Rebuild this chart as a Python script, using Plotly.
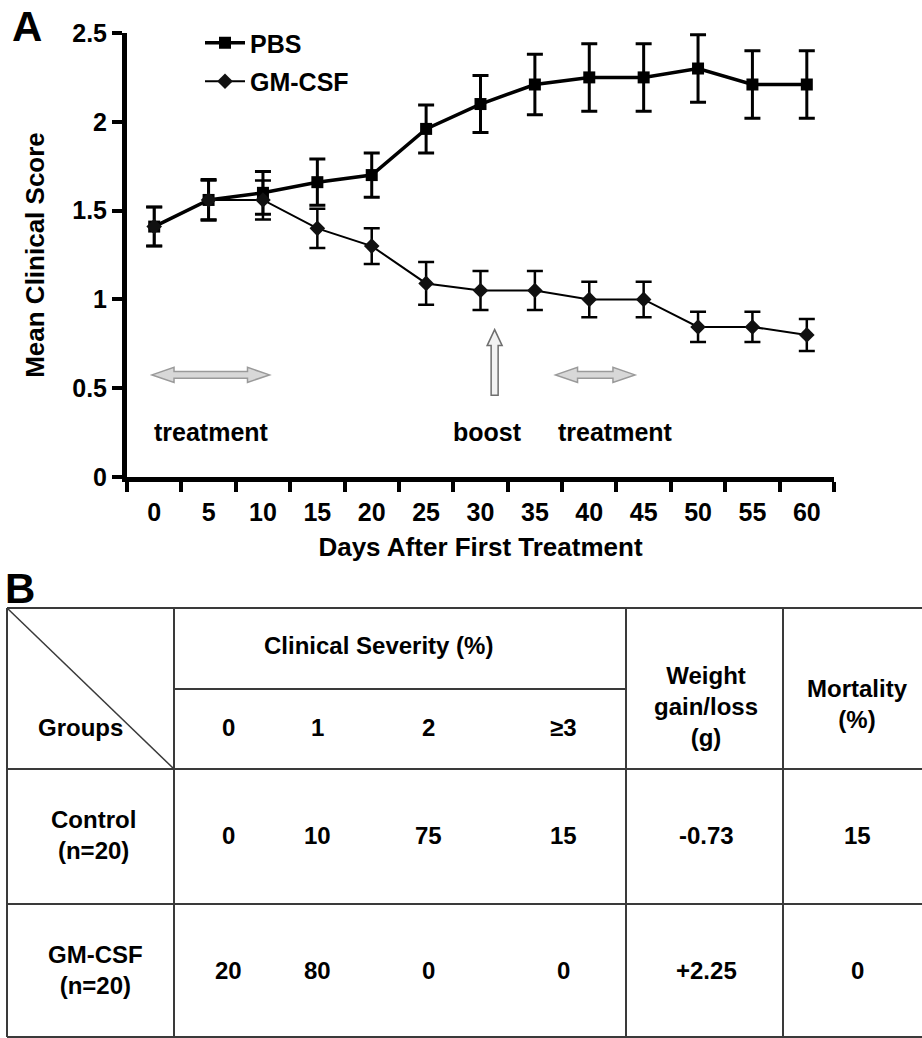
import plotly.graph_objects as go

# ---------------- data (panel A) ----------------
days = [0, 5, 10, 15, 20, 25, 30, 35, 40, 45, 50, 55, 60]
pbs_mean = [1.41, 1.56, 1.60, 1.66, 1.70, 1.96, 2.10, 2.21, 2.25, 2.25, 2.30, 2.21, 2.21]
pbs_sem = [0.11, 0.115, 0.12, 0.13, 0.125, 0.135, 0.16, 0.17, 0.19, 0.19, 0.19, 0.19, 0.19]
gm_mean = [1.41, 1.56, 1.56, 1.40, 1.30, 1.09, 1.05, 1.05, 1.00, 1.00, 0.845, 0.845, 0.80]
gm_sem = [0.11, 0.11, 0.11, 0.11, 0.10, 0.12, 0.11, 0.11, 0.10, 0.10, 0.085, 0.085, 0.09]
y_ticks = [0, 0.5, 1, 1.5, 2, 2.5]
y_ticklabels = ["0", "0.5", "1", "1.5", "2", "2.5"]

treatment_arrows_days = [(-0.2, 10.6), (36.9, 44.2)]
boost_day = 31.3

# ---------------- data (panel B) ----------------
severity_levels = ["0", "1", "2", "≥3"]
groups = ["Control<br>(n=20)", "GM-CSF<br>(n=20)"]
severity_control = ["0", "10", "75", "15"]
severity_gmcsf = ["20", "80", "0", "0"]
weight_change = ["-0.73", "+2.25"]
mortality = ["15", "0"]

# ---------------- figure geometry ----------------
W, H = 922, 1038
FONT = "Liberation Sans, Arial, Helvetica, sans-serif"
PX_L, PX_R, PX_T, PX_B = 127, 834, 33, 477
XR = (-2.5, 62.5)
YR = (0, 2.5)


def px(x):
    return x / W


def py(y):
    return 1 - y / H


fig = go.Figure()

fig.add_trace(go.Scatter(
    x=days, y=pbs_mean, name="PBS", mode="lines+markers",
    line=dict(color="black", width=3.5),
    marker=dict(symbol="square", size=12, color="black"),
    error_y=dict(type="data", array=pbs_sem, visible=True, color="black",
                 thickness=3, width=8),
    legendgroup="a",
))
fig.add_trace(go.Scatter(
    x=days, y=gm_mean, name="GM-CSF", mode="lines+markers",
    line=dict(color="black", width=2),
    marker=dict(symbol="diamond", size=12, color="#111111"),
    error_y=dict(type="data", array=gm_sem, visible=True, color="black",
                 thickness=2.5, width=8),
    legendgroup="b",
))

bold = dict(family=FONT, size=25, color="black", weight="bold")
title_font = dict(family=FONT, size=26, color="black", weight="bold")

fig.update_layout(
    width=W, height=H, autosize=False,
    margin=dict(l=0, r=0, t=0, b=0),
    paper_bgcolor="white", plot_bgcolor="white",
    showlegend=True,
    legend=dict(x=px(200), y=py(20), xanchor="left", yanchor="top",
                font=bold, bgcolor="rgba(0,0,0,0)", tracegroupgap=3,
                traceorder="grouped", itemwidth=40),
    xaxis=dict(
        domain=[px(PX_L), px(PX_R)], range=list(XR), anchor="y",
        tickmode="array", tickvals=days, ticktext=[str(d) for d in days],
        ticks="outside", ticklen=9, tickcolor="rgba(0,0,0,0)",
        minor=dict(tickmode="array",
                   tickvals=[XR[0] + 5 * k for k in range(14)],
                   ticks="outside", ticklen=10, tickwidth=4, tickcolor="black"),
        showline=True, linewidth=5, linecolor="black",
        showgrid=False, zeroline=False, tickfont=bold,
        title=dict(text="Days After First Treatment", font=title_font, standoff=14),
        automargin=False,
    ),
    yaxis=dict(
        domain=[py(PX_B), py(PX_T)], range=list(YR), anchor="x",
        tickmode="array", tickvals=y_ticks, ticktext=y_ticklabels,
        ticks="outside", ticklen=10, tickwidth=4, tickcolor="black",
        showline=True, linewidth=5, linecolor="black",
        showgrid=False, zeroline=False, tickfont=bold,
        title=dict(text="Mean Clinical Score", font=title_font, standoff=22),
        automargin=False,
    ),
)

# scale helpers (pixels -> data units in panel A)
dpx = (XR[1] - XR[0]) / (PX_R - PX_L)
dpy = (YR[1] - YR[0]) / (PX_B - PX_T)

shapes = []
# horizontal double arrows (treatment periods)
y_arrow = 0.575
for (a, b) in treatment_arrows_days:
    L = 22 * dpx
    Hh = 7.5 * dpy
    h = 3.3 * dpy
    path = (f"M {a},{y_arrow} L {a+L},{y_arrow+Hh} L {a+L},{y_arrow+h} "
            f"L {b-L},{y_arrow+h} L {b-L},{y_arrow+Hh} L {b},{y_arrow} "
            f"L {b-L},{y_arrow-Hh} L {b-L},{y_arrow-h} L {a+L},{y_arrow-h} "
            f"L {a+L},{y_arrow-Hh} Z")
    shapes.append(dict(type="path", xref="x", yref="y", path=path,
                       fillcolor="#d8d8d8", line=dict(color="#9a9a9a", width=1.5)))
# vertical boost arrow
y0, y1 = 0.46, 0.83
hw = 3.5 * dpx
HW = 7.5 * dpx
HL = 16 * dpy
bx = boost_day
path = (f"M {bx-hw},{y0} L {bx-hw},{y1-HL} L {bx-HW},{y1-HL} L {bx},{y1} "
        f"L {bx+HW},{y1-HL} L {bx+hw},{y1-HL} L {bx+hw},{y0} Z")
shapes.append(dict(type="path", xref="x", yref="y", path=path,
                   fillcolor="#f2f2f2", line=dict(color="#6e6e6e", width=1.5)))

# ---------------- table (panel B) ----------------
LC = "#3a3a3a"
TL, TR, TT, TB = 7, 922, 608, 1037
col_x = [174, 626, 783]
y_sub, y_head, y_row = 689, 769, 904


def hline(y, x0, x1):
    shapes.append(dict(type="line", xref="paper", yref="paper",
                       x0=px(x0), x1=px(x1), y0=py(y), y1=py(y),
                       line=dict(color=LC, width=2)))


def vline(x, y0, y1):
    shapes.append(dict(type="line", xref="paper", yref="paper",
                       x0=px(x), x1=px(x), y0=py(y0), y1=py(y1),
                       line=dict(color=LC, width=2)))


for yy in (TT, y_head, y_row, TB):
    hline(yy, TL, TR)
hline(y_sub, col_x[0], col_x[1])
for xx in [TL] + col_x:
    vline(xx, TT, TB)
shapes.append(dict(type="line", xref="paper", yref="paper",
                   x0=px(TL), y0=py(TT), x1=px(col_x[0]), y1=py(y_head),
                   line=dict(color=LC, width=1.5)))

fig.update_layout(shapes=shapes)

tfont = dict(family=FONT, size=24, color="black", weight="bold")
ann = []


def text(x, y, s, size=24, xref="paper", yref="paper", xanchor="center"):
    f = dict(tfont)
    f["size"] = size
    ann.append(dict(x=x, y=y, xref=xref, yref=yref, text=s, showarrow=False,
                    font=f, xanchor=xanchor, yanchor="middle"))


# panel letters
text(px(27), py(26), "A", size=42)
text(px(20), py(588), "B", size=42)

# panel A labels
text(5.3, 0.253, "treatment", size=25, xref="x", yref="y")
text(30.6, 0.253, "boost", size=25, xref="x", yref="y")
text(42.4, 0.253, "treatment", size=25, xref="x", yref="y")
text(64.9, 0.78, "*", size=20, xref="x", yref="y")

# table headers
sev_x = [228, 317, 428, 563]
text(px(80), py(727), "Groups")
text(px(378), py(645), "Clinical Severity (%)")
for xx, lab in zip(sev_x, severity_levels):
    text(px(xx), py(727), lab)
text(px(706), py(706), "Weight<br>gain/loss<br>(g)")
text(px(857), py(704), "Mortality<br>(%)")

row_y = [835, 970]
group_x = [93, 95]
for i, (g, sev, w, m) in enumerate(zip(groups, [severity_control, severity_gmcsf],
                                       weight_change, mortality)):
    text(px(group_x[i]), py(row_y[i]), g)
    for xx, v in zip(sev_x, sev):
        text(px(xx), py(row_y[i]), v)
    text(px(706), py(row_y[i]), w)
    text(px(857), py(row_y[i]), m)

fig.update_layout(annotations=ann)

fig.write_html(
    "out.html",
    config={"displayModeBar": False},
    post_script="document.body.style.margin='0px';document.body.style.overflow='hidden';",
)
